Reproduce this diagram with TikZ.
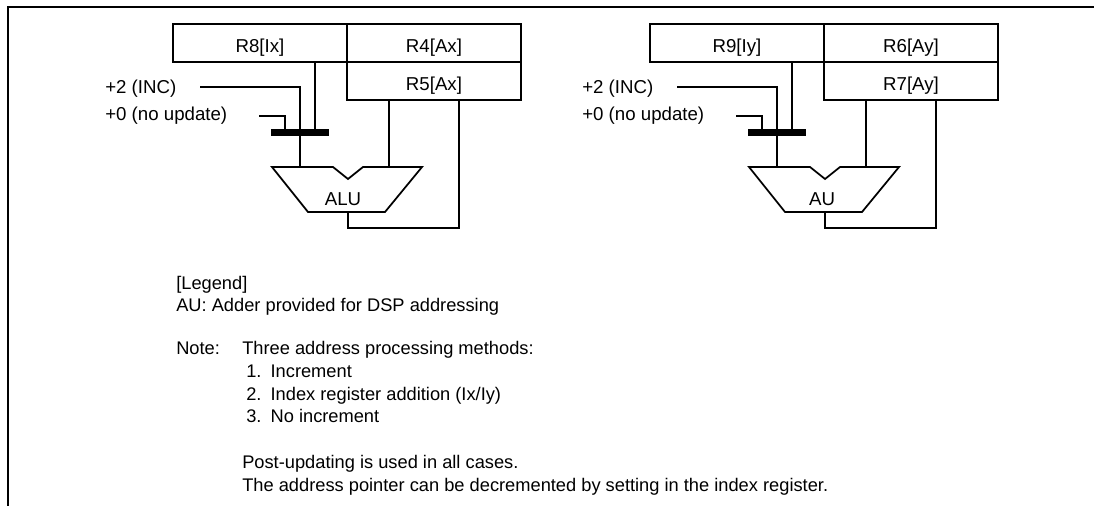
\documentclass[tikz,border=0pt]{standalone}
\usepackage{fontspec}
\setmainfont{Liberation Sans}
\usepackage{tikz}
\usetikzlibrary{calc,positioning}

\tikzset{
  every node/.style={font=\fontsize{14}{17}\selectfont},
  reg/.style={draw, line width=1.5pt, minimum width=130.5pt, minimum height=28.5pt, inner sep=0pt, outer sep=0pt, text height=14.6pt, text depth=0pt},
  wire/.style={line width=0.8pt},
  unit/.style={line width=1.3pt, line join=miter},
  selbar/.style={fill=black, minimum width=43.5pt, minimum height=5.25pt, inner sep=0pt, outer sep=0pt},
  lbl/.style={anchor=base west, inner sep=0pt},
  txt/.style={lbl, font=\fontsize{13.7}{16}\selectfont}
}

\begin{document}
\begin{tikzpicture}[x=0.75pt,y=-0.75pt]
\useasboundingbox (0,0) rectangle (1094,506);
\draw[line width=1.5pt] (7.5,506) -- (7.5,7.5) -- (1094,7.5);

% X side
\node[reg] (R8) at (260,43) {R8[Ix]};
\node[reg, right=0pt of R8] (R4) {R4[Ax]};
\node[reg, below=0pt of R4] (R5) {R5[Ax]};
\node[lbl] (incx) at (105,94) {+2 (INC)};
\node[lbl] (noux) at (105,121) {+0 (no update)};
\node[selbar] (barx) at (300,132.5) {};
\node (alu) at (343,199) {ALU};
\draw[unit] (272,167) -- (333,167) -- (348,179) -- (363,167) -- (422,167) -- (385,212) -- (308,212) -- cycle;
\coordinate (incxS) at (200,87);
\coordinate (nouxS) at (259,116);
\coordinate (nouxT) at (285,0);
\coordinate (ixT) at (315,0);
\coordinate (aluIn1) at (300,167);
\coordinate (aluIn2) at (389,167);
\coordinate (aluOut) at (348,212);
\coordinate (retx) at (459,228);
\draw[wire] (incxS) -| (barx.north);
\draw[wire] (nouxS) -| (nouxT |- barx.north);
\draw[wire] (ixT |- R8.south) -- (ixT |- barx.north);
\draw[wire] (barx.south) -- (aluIn1);
\draw[wire] (aluIn2) -- (aluIn2 |- R5.south);
\draw[wire] (aluOut) |- (retx) -- (retx |- R5.south);

% Y side
\node[reg] (R9) at (737,43) {R9[Iy]};
\node[reg, right=0pt of R9] (R6) {R6[Ay]};
\node[reg, below=0pt of R6] (R7) {R7[Ay]};
\node[lbl] (incy) at (582,94) {+2 (INC)};
\node[lbl] (nouy) at (582,121) {+0 (no update)};
\node[selbar] (bary) at (777,132.5) {};
\node (au) at (822,199) {AU};
\draw[unit] (749,167) -- (810,167) -- (825,179) -- (840,167) -- (899,167) -- (862,212) -- (785,212) -- cycle;
\coordinate (incyS) at (677,87);
\coordinate (nouyS) at (736,116);
\coordinate (nouyT) at (762,0);
\coordinate (iyT) at (792,0);
\coordinate (auIn1) at (777,167);
\coordinate (auIn2) at (866,167);
\coordinate (auOut) at (825,212);
\coordinate (rety) at (936,228);
\draw[wire] (incyS) -| (bary.north);
\draw[wire] (nouyS) -| (nouyT |- bary.north);
\draw[wire] (iyT |- R9.south) -- (iyT |- bary.north);
\draw[wire] (bary.south) -- (auIn1);
\draw[wire] (auIn2) -- (auIn2 |- R7.south);
\draw[wire] (auOut) |- (rety) -- (rety |- R7.south);

% legend and note
\node[txt] (legend) at (176,289) {[Legend]};
\node[txt] (aukey) at (176,311) {AU: Adder provided for DSP addressing};
\node[txt] (note) at (176,354) {Note:};
\node[txt] (three) at (242,354) {Three address processing methods:};
\node[txt] (m1) at (246,377) {1.\enspace Increment};
\node[txt] (m2) at (246,400) {2.\enspace Index register addition (Ix/Iy)};
\node[txt] (m3) at (246,422) {3.\enspace No increment};
\node[txt] (post) at (242,468) {Post-updating is used in all cases.};
\node[txt] (decr) at (242,491) {The address pointer can be decremented by setting in the index register.};
\end{tikzpicture}
\end{document}
